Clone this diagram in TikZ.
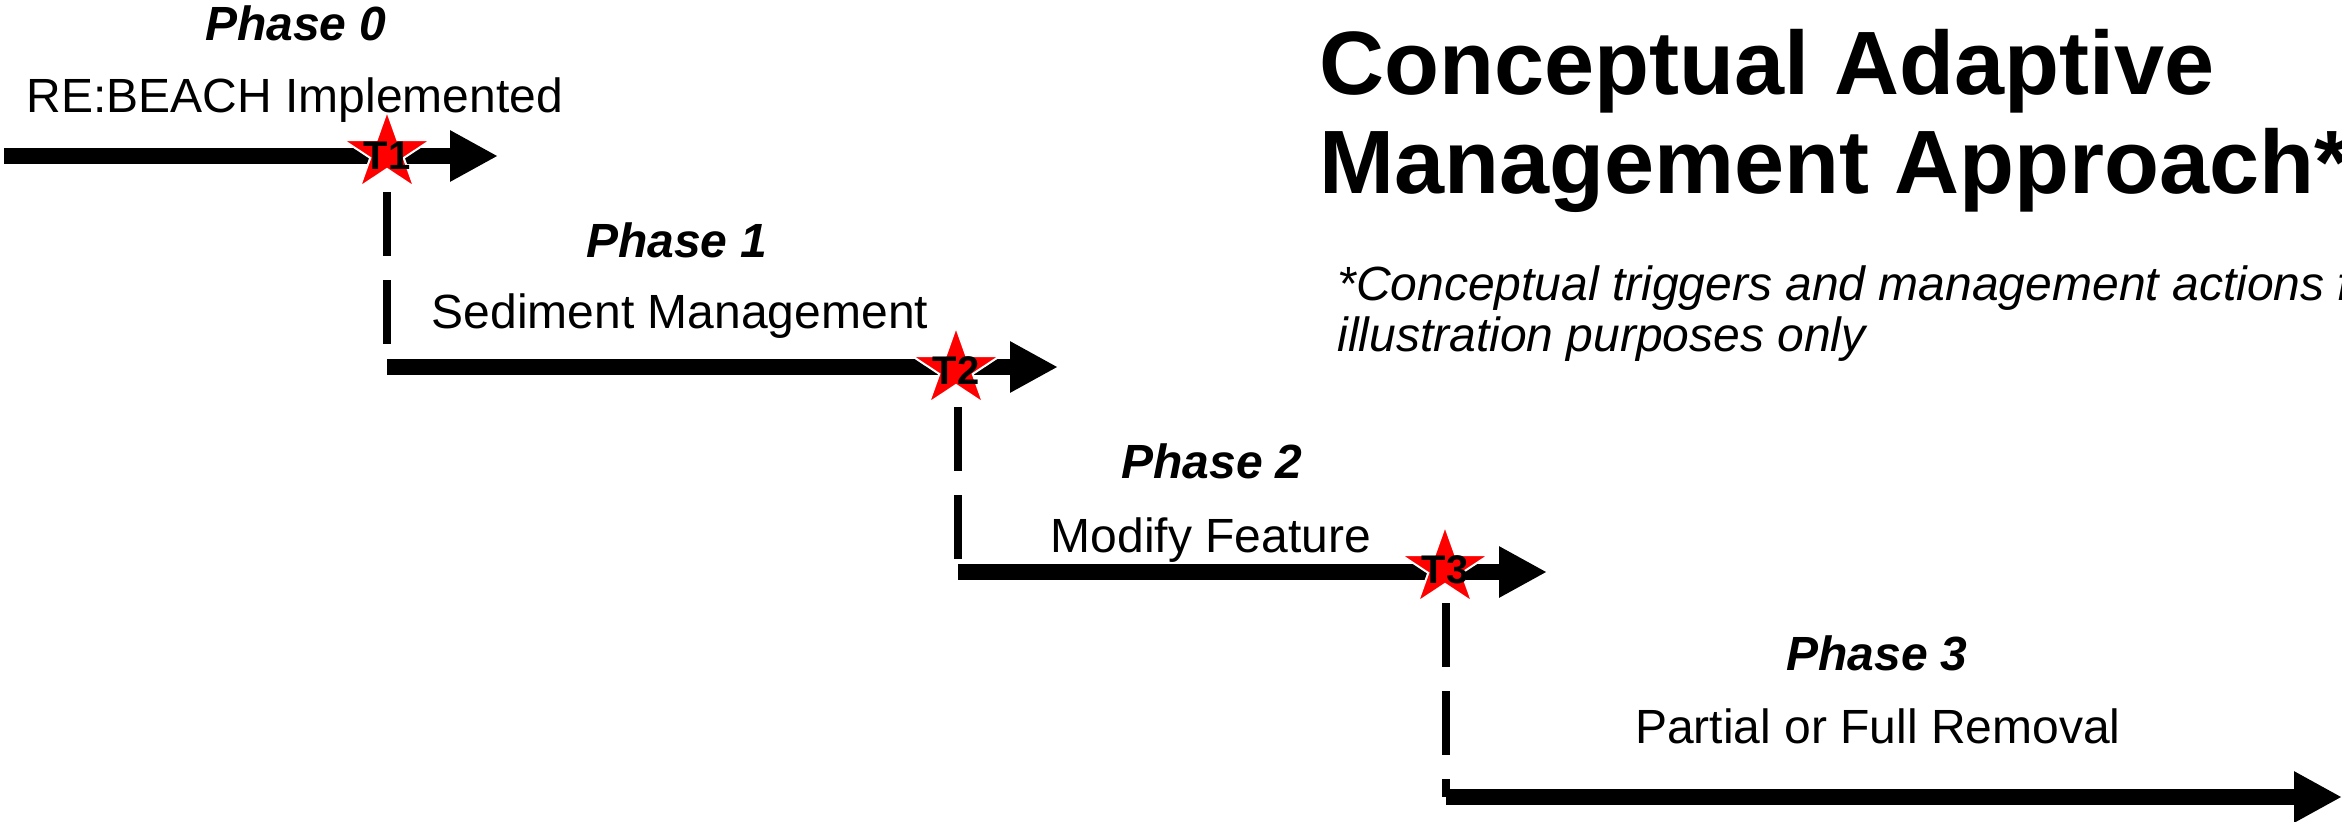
\documentclass[tikz,border=0pt]{standalone}
\usepackage{fontspec}
\setmainfont{Liberation Sans}
\usetikzlibrary{arrows.meta}

\tikzset{
  timeline/.style={line width=8pt, -{Triangle[length=24pt,width=24pt]}},
  trigger/.style={line width=4pt, dash pattern=on 32pt off 12pt},
  starshape/.style={fill=red, draw=white, line width=1pt, line join=miter},
  tlabel/.style={font=\fontsize{20}{22}\selectfont\bfseries, inner sep=0pt},
  phase/.style={font=\fontsize{24}{28}\selectfont\bfseries\itshape, anchor=base, inner sep=0pt},
  action/.style={font=\fontsize{24}{28}\selectfont, anchor=base, inner sep=0pt},
  headline/.style={font=\fontsize{45}{50}\selectfont\bfseries, anchor=base west, inner sep=0pt},
  note/.style={font=\fontsize{24}{28}\selectfont\itshape, anchor=base west, inner sep=0pt},
}

% five-pointed trigger star centred at #1
\newcommand{\triggerstar}[1]{%
  \path[starshape, shift={#1}, xscale=1.1]
    (270:42) -- (306:16) -- (342:42) -- (18:16) -- (54:42) -- (90:16)
    -- (126:42) -- (162:16) -- (198:42) -- (234:16) -- cycle;}

\begin{document}
\begin{tikzpicture}[x=0.5pt, y=-0.5pt]
\useasboundingbox (0,0) rectangle (2342,821);

% timeline end points
\coordinate (b0s) at (4,156);    \coordinate (b0e) at (498,156);
\coordinate (b1s) at (387,367);  \coordinate (b1e) at (1058,367);
\coordinate (b2s) at (958,572);  \coordinate (b2e) at (1547,572);
\coordinate (b3s) at (1446,797); \coordinate (b3e) at (2342,797);

% trigger drop lines start just below each star
\coordinate (d1) at (387,192);
\coordinate (d2) at (958,407);
\coordinate (d3) at (1446,603);

\draw[trigger] (d1) -- (b1s);
\draw[trigger] (d2) -- (b2s);
\draw[trigger] (d3) -- (b3s);

% phase timelines
\draw[timeline] (b0s) -- (b0e);
\draw[timeline] (b1s) -- (b1e);
\draw[timeline] (b2s) -- (b2e);
\draw[timeline] (b3s) -- (b3e);

% triggers
\triggerstar{(387,153)}
\triggerstar{(956,369)}
\triggerstar{(1445,568)}
\node[tlabel] (t1) at (387,156) {T1};
\node[tlabel] (t2) at (956,371) {T2};
\node[tlabel] (t3) at (1445,570) {T3};

% phase labels
\node[phase]  (p0) at (296,40)   {Phase 0};
\node[action] (a0) at (295,112)  {RE:BEACH Implemented};
\node[phase]  (p1) at (677,257)  {Phase 1};
\node[action] (a1) at (680,328)  {Sediment Management};
\node[phase]  (p2) at (1212,478) {Phase 2};
\node[action] (a2) at (1211,552) {Modify Feature};
\node[phase]  (p3) at (1877,670) {Phase 3};
\node[action] (a3) at (1878,743) {Partial or Full Removal};

% heading and footnote
\node[headline] (h1) at (1319,94)  {Conceptual Adaptive};
\node[headline] (h2) at (1319,193) {Management Approach*};
\node[note] (n1) at (1337,300) {*Conceptual triggers and management actions for};
\node[note] (n2) at (1337,351) {illustration purposes only};
\end{tikzpicture}
\end{document}
